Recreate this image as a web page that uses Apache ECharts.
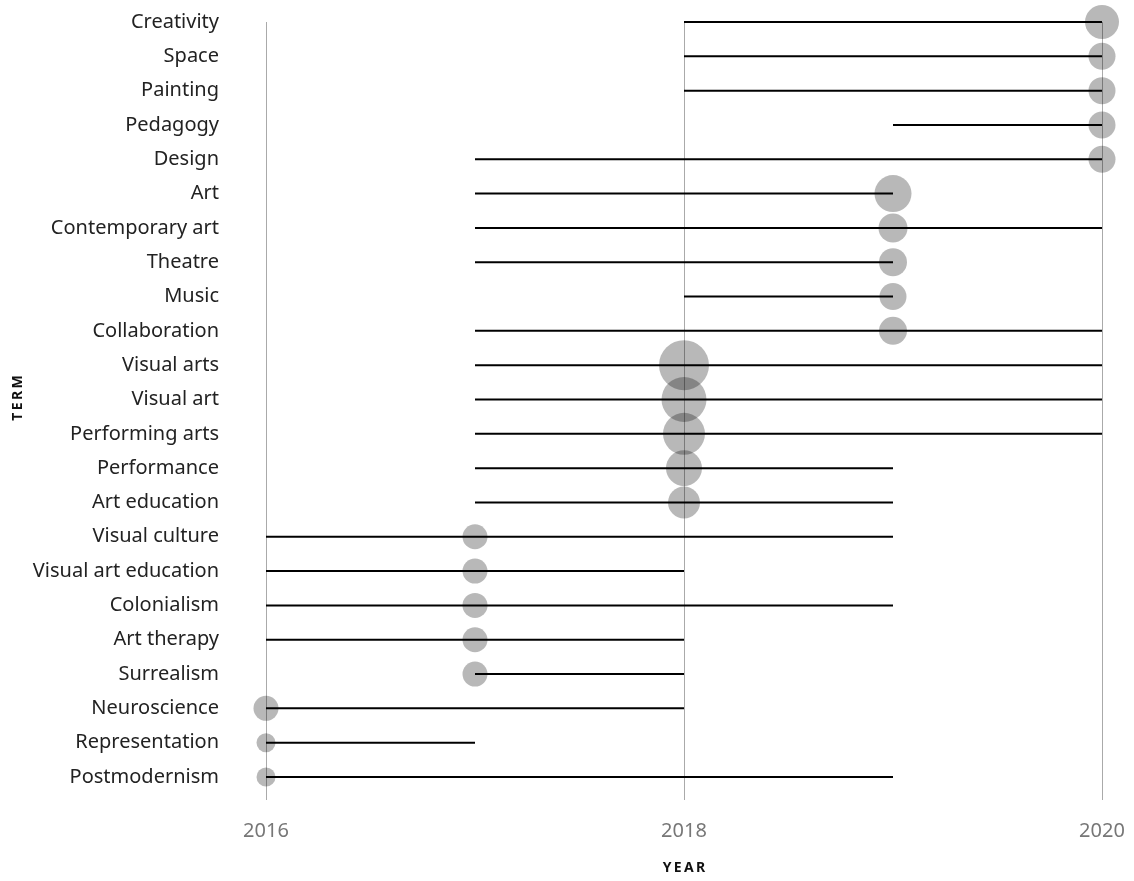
<!DOCTYPE html>
<html>
<head>
<meta charset="utf-8">
<script src="https://cdn.jsdelivr.net/npm/echarts@6/dist/echarts.min.js"></script>
<style>
html,body{margin:0;padding:0;background:#fff;}
#chart{width:1134px;height:881px;}
</style>
</head>
<body>
<div id="chart"></div>
<script>
// Terms, top to bottom
const terms = ["Creativity","Space","Painting","Pedagogy","Design","Art","Contemporary art","Theatre","Music","Collaboration","Visual arts","Visual art","Performing arts","Performance","Art education","Visual culture","Visual art education","Colonialism","Art therapy","Surrealism","Neuroscience","Representation","Postmodernism"];
const startYear = [2018,2018,2018,2019,2017,2017,2017,2017,2018,2017,2017,2017,2017,2017,2017,2016,2016,2016,2016,2017,2016,2016,2016];
const endYear   = [2020,2020,2020,2020,2020,2019,2020,2019,2019,2020,2020,2020,2020,2019,2019,2019,2018,2019,2018,2018,2018,2017,2019];
const peakYear  = [2020,2020,2020,2020,2020,2019,2019,2019,2019,2019,2018,2018,2018,2018,2018,2017,2017,2017,2017,2017,2016,2016,2016];
const weight    = [34,27,27,27,27,37,29,28,27,28,50,45,42,36,32,25,25,25,25,25,25,19,19];
const yearTicks = [2016,2018,2020];

const FONT = '"Noto Sans"';
const rangeData = terms.map((t,i)=>[startYear[i], endYear[i], i]);
const peakData = terms.map((t,i)=>[peakYear[i], i, weight[i]]);

const chart = echarts.init(document.getElementById('chart'), null, {renderer:'canvas'});
chart.setOption({
  animation:false,
  backgroundColor:'#fff',
  textStyle:{fontFamily:FONT},
  grid:{left:266, right:32, top:22, bottom:81, containLabel:false},
  xAxis:{
    type:'value', min:2016, max:2020, interval:2,
    name:'Y\u2009E\u2009A\u2009R', nameLocation:'middle', nameGap:61,
    nameTextStyle:{fontFamily:FONT, fontWeight:'bold', fontSize:14, color:'#111'},
    axisLine:{show:false}, axisTick:{show:false},
    axisLabel:{fontSize:20, color:'#777', margin:21, fontFamily:FONT,
      customValues: yearTicks, formatter: v=>String(v)},
    splitLine:{show:true, lineStyle:{color:'#aaa', width:1}}
  },
  yAxis:{
    type:'value', inverse:true, min:0, max:22.67,
    axisLine:{show:false}, axisTick:{show:false}, splitLine:{show:false},
    axisLabel:{fontSize:20, color:'#222', margin:47, fontFamily:FONT, padding:[2,0,0,0],
      customValues: terms.map((t,i)=>i),
      formatter: v=>terms[Math.round(v)] || ''}
  },
  graphic:[{
    type:'text', rotation:Math.PI/2,
    style:{text:'T\u2009E\u2009R\u2009M', font:'bold 14px "Noto Sans"', fill:'#111', textAlign:'center', textVerticalAlign:'middle'},
    x:18, y:398
  }],
  series:[{
    type:'custom',
    z:2,
    data:rangeData,
    encode:{x:[0,1], y:2},
    renderItem:(params, api)=>{
      const a = api.coord([api.value(0), api.value(2)]);
      const b = api.coord([api.value(1), api.value(2)]);
      return {type:'line', shape:{x1:a[0], y1:a[1], x2:b[0], y2:b[1]},
        style:{stroke:'#000', lineWidth:2}};
    }
  },{
    type:'scatter',
    z:3,
    data:peakData,
    symbol:'circle',
    symbolSize: v=>v[2],
    itemStyle:{color:'rgba(0,0,0,0.35)'}
  }]
});
</script>
</body>
</html>
